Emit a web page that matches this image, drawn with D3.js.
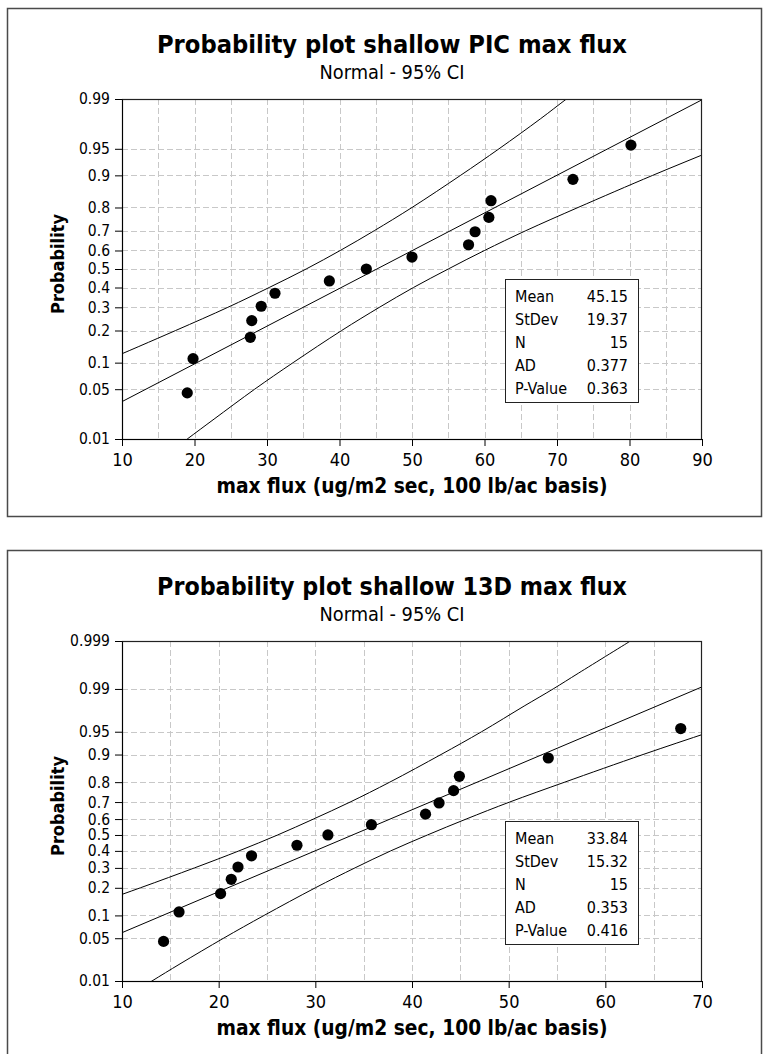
<!DOCTYPE html>
<html>
<head>
<meta charset="utf-8">
<script src="https://cdn.jsdelivr.net/npm/d3@7"></script>
<style>
  html, body { margin: 0; padding: 0; background: #fff; }
  svg { display: block; }
</style>
</head>
<body>
<svg id="chart" width="764" height="1054"></svg>
<script>
// plotting positions (median ranks), same for both samples
var rankProbs = [0.045, 0.110, 0.175, 0.240, 0.305, 0.370, 0.435, 0.500, 0.565, 0.630, 0.695, 0.760, 0.825, 0.890, 0.955];

// sample values (x)
var picFlux = [19.0, 19.8, 27.7, 27.9, 29.2, 31.1, 38.6, 43.7, 50.0, 57.8, 58.7, 60.6, 60.9, 72.2, 80.2];
var d13Flux = [14.3, 15.9, 20.2, 21.3, 22.0, 23.4, 28.1, 31.3, 35.8, 41.4, 42.8, 44.3, 44.9, 54.1, 67.8];

// probability levels where fit line and 95% CI bands were read
var bandProbs = [0.001, 0.005, 0.01, 0.02, 0.05, 0.1, 0.2, 0.3, 0.4, 0.5, 0.6, 0.7, 0.8, 0.9, 0.95, 0.98, 0.99, 0.995, 0.999];
var picLower = [-38.3, -25.1, -18.8, -11.9, -1.8, 7.1, 17.4, 24.6, 30.3, 35.4, 40.1, 44.8, 50.0, 56.7, 62.0, 67.7, 71.3, 74.7, 81.4];
var picUpper = [8.9, 15.6, 19.0, 22.7, 28.3, 33.6, 40.3, 45.5, 50.2, 55.0, 60.0, 65.7, 72.9, 83.2, 92.1, 102.2, 109.1, 115.4, 128.6];
var d13Lower = [-32.1, -21.7, -16.7, -11.3, -3.3, 3.8, 11.9, 17.5, 22.1, 26.1, 29.8, 33.6, 37.7, 43.0, 47.2, 51.6, 54.6, 57.2, 62.6];
var d13Upper = [5.1, 10.5, 13.1, 16.0, 20.5, 24.7, 30.0, 34.1, 37.8, 41.6, 45.6, 50.1, 55.8, 63.9, 70.9, 79.0, 84.4, 89.4, 99.8];

// fitted line end points
var fitProbs = [0.001, 0.999];
var picFit = [-14.7, 105.0];
var d13Fit = [-13.5, 81.2];

// stats box
var statLabels = ["Mean", "StDev", "N", "AD", "P-Value"];
var picStats = ["45.15", "19.37", "15", "0.377", "0.363"];
var d13Stats = ["33.84", "15.32", "15", "0.353", "0.416"];

// ticks
var picYTicks = [0.01, 0.05, 0.1, 0.2, 0.3, 0.4, 0.5, 0.6, 0.7, 0.8, 0.9, 0.95, 0.99];
var picYLabels = ["0.01", "0.05", "0.1", "0.2", "0.3", "0.4", "0.5", "0.6", "0.7", "0.8", "0.9", "0.95", "0.99"];
var d13YTicks = [0.01, 0.05, 0.1, 0.2, 0.3, 0.4, 0.5, 0.6, 0.7, 0.8, 0.9, 0.95, 0.99, 0.999];
var d13YLabels = ["0.01", "0.05", "0.1", "0.2", "0.3", "0.4", "0.5", "0.6", "0.7", "0.8", "0.9", "0.95", "0.99", "0.999"];
var picXTicks = [10, 20, 30, 40, 50, 60, 70, 80, 90];
var picXGrid = [15, 20, 25, 30, 35, 40, 45, 50, 55, 60, 65, 70, 75, 80, 85];
var d13XTicks = [10, 20, 30, 40, 50, 60, 70];
var d13XGrid = [15, 20, 25, 30, 35, 40, 45, 50, 55, 60, 65];

var FONT = "'DejaVu Sans Condensed', 'DejaVu Sans', sans-serif";

// inverse normal cdf (Acklam) - used as the probability axis transform
function probit(p) {
  var a = [-3.969683028665376e+01, 2.209460984245205e+02, -2.759285104469687e+02, 1.383577518672690e+02, -3.066479806614716e+01, 2.506628277459239e+00];
  var b = [-5.447609879822406e+01, 1.615858368580409e+02, -1.556989798598866e+02, 6.680131188771972e+01, -1.328068155288572e+01];
  var c = [-7.784894002430293e-03, -3.223964580411365e-01, -2.400758277161838e+00, -2.549732539343734e+00, 4.374664141464968e+00, 2.938163982698783e+00];
  var d = [7.784695709041462e-03, 3.224671290700398e-01, 2.445134137142996e+00, 3.754408661907416e+00];
  var pl = 0.02425, q, r;
  if (p < pl) {
    q = Math.sqrt(-2 * Math.log(p));
    return (((((c[0]*q+c[1])*q+c[2])*q+c[3])*q+c[4])*q+c[5]) / ((((d[0]*q+d[1])*q+d[2])*q+d[3])*q+1);
  }
  if (p <= 1 - pl) {
    q = p - 0.5; r = q * q;
    return (((((a[0]*r+a[1])*r+a[2])*r+a[3])*r+a[4])*r+a[5])*q / (((((b[0]*r+b[1])*r+b[2])*r+b[3])*r+b[4])*r+1);
  }
  q = Math.sqrt(-2 * Math.log(1 - p));
  return -(((((c[0]*q+c[1])*q+c[2])*q+c[3])*q+c[4])*q+c[5]) / ((((d[0]*q+d[1])*q+d[2])*q+d[3])*q+1);
}

// shrink/grow a text node so it spans a given width
function fitText(sel, width) {
  var len = sel.node().getComputedTextLength();
  var fs = parseFloat(sel.attr("font-size"));
  sel.attr("font-size", (fs * width / len).toFixed(2));
  return sel;
}

var svg = d3.select("#chart");

function drawPlot(o) {
  var fy = o.frameY;
  var m = { left: 122, right: 702, top: fy + 91, bottom: fy + 431 };

  var g = svg.append("g");

  // outer frame
  g.append("rect")
    .attr("x", 7.5).attr("y", fy + 0.5)
    .attr("width", 754).attr("height", o.frameH)
    .attr("fill", "none").attr("stroke", "#4a4a4a").attr("stroke-width", 1.5);

  var x = d3.scaleLinear().domain(o.xDomain).range([m.left, m.right]);
  var yz = d3.scaleLinear()
    .domain([probit(o.yTicks[0]), probit(o.yTicks[o.yTicks.length - 1])])
    .range([m.bottom, m.top]);
  var y = function (p) { return yz(probit(p)); };

  // grid
  g.append("g").selectAll("line").data(o.xGrid).join("line")
    .attr("x1", function (d) { return Math.round(x(d)) + 0.5; })
    .attr("x2", function (d) { return Math.round(x(d)) + 0.5; })
    .attr("y1", m.top).attr("y2", m.bottom)
    .attr("stroke", "#c8c8c8").attr("stroke-dasharray", "6,3");
  g.append("g").selectAll("line").data(o.yTicks.slice(1, -1)).join("line")
    .attr("x1", m.left).attr("x2", m.right)
    .attr("y1", function (d) { return Math.round(y(d)) + 0.5; })
    .attr("y2", function (d) { return Math.round(y(d)) + 0.5; })
    .attr("stroke", "#c8c8c8").attr("stroke-dasharray", "6,3");

  // clip for fit / CI lines
  var clipId = "clip" + o.id;
  g.append("clipPath").attr("id", clipId).append("rect")
    .attr("x", m.left).attr("y", m.top)
    .attr("width", m.right - m.left).attr("height", m.bottom - m.top);

  var line = d3.line()
    .x(function (d) { return x(d[1]); })
    .y(function (d) { return y(d[0]); })
    .curve(d3.curveCatmullRom);

  var lines = g.append("g").attr("clip-path", "url(#" + clipId + ")")
    .attr("fill", "none").attr("stroke", "#000").attr("stroke-width", 1);
  lines.append("path").attr("d", line(d3.zip(bandProbs, o.lower)));
  lines.append("path").attr("d", line(d3.zip(bandProbs, o.upper)));
  lines.append("path").attr("d", line(d3.zip(fitProbs, o.fit)));

  // points
  g.append("g").selectAll("circle").data(d3.zip(rankProbs, o.flux)).join("circle")
    .attr("cx", function (d) { return x(d[1]); })
    .attr("cy", function (d) { return y(d[0]); })
    .attr("r", 5.6).attr("fill", "#000");

  // plot box
  g.append("rect")
    .attr("x", m.left + 0.5).attr("y", m.top + 0.5)
    .attr("width", m.right - m.left - 1).attr("height", m.bottom - m.top)
    .attr("fill", "none").attr("stroke", "#222").attr("stroke-width", 1.2);

  // axes
  var xAxis = g.append("g")
    .attr("transform", "translate(0," + m.bottom + ")")
    .call(d3.axisBottom(x).tickValues(o.xTicks).tickSize(7).tickSizeOuter(0).tickPadding(7));
  xAxis.selectAll("text").attr("font-family", FONT).attr("font-size", 18).attr("fill", "#000");

  var yAxis = g.append("g")
    .attr("transform", "translate(" + m.left + ",0)")
    .call(d3.axisLeft(yz)
      .tickValues(o.yTicks.map(probit))
      .tickFormat(function (d, i) { return o.yLabels[i]; })
      .tickSize(7).tickSizeOuter(0).tickPadding(5));
  yAxis.selectAll("text").attr("font-family", FONT).attr("font-size", 15.5).attr("fill", "#000");
  g.selectAll(".domain").attr("stroke", "#000");
  g.selectAll(".tick line").attr("stroke", "#000");

  // titles
  var cx = 392;
  fitText(g.append("text")
    .attr("x", cx).attr("y", fy + 45)
    .attr("text-anchor", "middle").attr("font-family", FONT)
    .attr("font-weight", "bold").attr("font-size", 22)
    .text(o.title), 470);
  fitText(g.append("text")
    .attr("x", cx).attr("y", fy + 71)
    .attr("text-anchor", "middle").attr("font-family", FONT)
    .attr("font-size", 16)
    .text("Normal - 95% CI"), 145);

  fitText(g.append("text")
    .attr("x", (m.left + m.right) / 2).attr("y", m.bottom + 54)
    .attr("text-anchor", "middle").attr("font-family", FONT)
    .attr("font-weight", "bold").attr("font-size", 18)
    .text("max flux (ug/m2 sec, 100 lb/ac basis)"), 391);

  fitText(g.append("text")
    .attr("transform", "translate(64," + ((m.top + m.bottom) / 2 - 5) + ") rotate(-90)")
    .attr("text-anchor", "middle").attr("font-family", FONT)
    .attr("font-weight", "bold").attr("font-size", 18)
    .text("Probability"), 100);

  // stats box
  var bx = 505, by = m.top + 180.5, bw = 133, bh = 123;
  g.append("rect")
    .attr("x", bx + 0.5).attr("y", by).attr("width", bw).attr("height", bh)
    .attr("fill", "#fff").attr("stroke", "#222").attr("stroke-width", 1);
  var rows = g.append("g").attr("font-family", FONT).attr("font-size", 16).attr("fill", "#000");
  rows.selectAll("text.lab").data(statLabels).join("text")
    .attr("class", "lab")
    .attr("x", bx + 10)
    .attr("y", function (d, i) { return by + 17 + i * 23; })
    .attr("dy", "0.35em")
    .text(function (d) { return d; });
  rows.selectAll("text.val").data(o.stats).join("text")
    .attr("class", "val")
    .attr("x", bx + bw - 10)
    .attr("y", function (d, i) { return by + 17 + i * 23; })
    .attr("dy", "0.35em")
    .attr("text-anchor", "end")
    .text(function (d) { return d; });
}

drawPlot({
  id: "pic", frameY: 8, frameH: 508,
  title: "Probability plot shallow PIC max flux",
  xDomain: [10, 90], xTicks: picXTicks, xGrid: picXGrid,
  yTicks: picYTicks, yLabels: picYLabels,
  flux: picFlux, lower: picLower, upper: picUpper, fit: picFit, stats: picStats
});

drawPlot({
  id: "d13", frameY: 550, frameH: 520,
  title: "Probability plot shallow 13D max flux",
  xDomain: [10, 70], xTicks: d13XTicks, xGrid: d13XGrid,
  yTicks: d13YTicks, yLabels: d13YLabels,
  flux: d13Flux, lower: d13Lower, upper: d13Upper, fit: d13Fit, stats: d13Stats
});
</script>
</body>
</html>
